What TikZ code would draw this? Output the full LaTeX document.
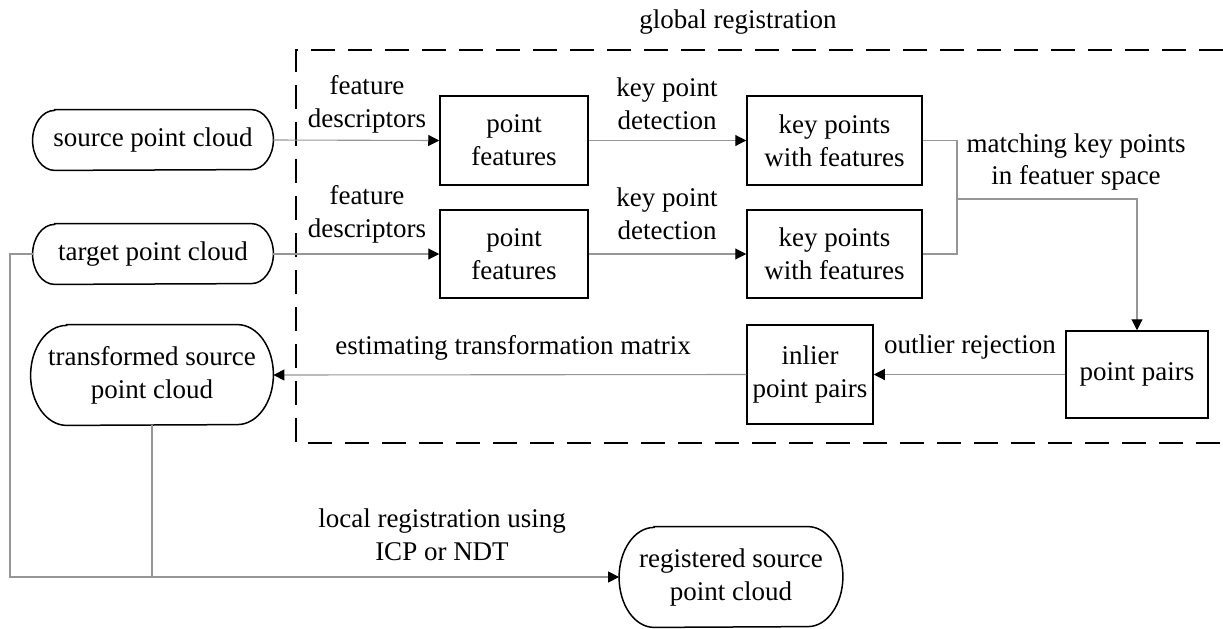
\documentclass[tikz,border=0pt]{standalone}
\usepackage{fontspec}
\setmainfont{Liberation Serif}
\usetikzlibrary{arrows.meta,calc}

\tikzset{
  boxline/.style={draw=black, line width=0.75pt},
  proc/.style={boxline, inner sep=0pt, align=center},
  term/.style={draw=none, inner sep=0pt, align=center},
  conn/.style={draw={rgb,255:red,150;green,150;blue,150}, line width=0.55pt},
  arr/.style={conn, -{Triangle[length=5.5pt,width=5.5pt,color=black]}},
  lbl/.style={inner sep=0pt, align=center},
  frame/.style={draw=black, line width=1pt, dash pattern=on 12pt off 6.5pt}
}

% capsule outline with elliptical ends around a named node
\newcommand{\capsule}[3]{%
  \draw[boxline] ($(#1.north west)+(#2,0)$) -- ($(#1.north east)-(#2,0)$)
    arc[start angle=90,end angle=-90,x radius=#2,y radius=#3]
    -- ($(#1.south west)+(#2,0)$)
    arc[start angle=270,end angle=90,x radius=#2,y radius=#3] -- cycle;}

\begin{document}
\begin{tikzpicture}[x=0.5pt,y=-0.5pt,
  every node/.style={font=\fontsize{13.5}{16.5}\selectfont}]
\useasboundingbox (0,0) rectangle (1223,628);

% global registration frame (open on the right)
\draw[frame] (1223,50) -- (296,50) -- (296,443) -- (1223,443);
\node[lbl] (glob) at (738,22) {global registration};

% terminal nodes
\node[term, minimum width=120pt, minimum height=30pt] (src) at (153,140) {source point cloud};
\node[term, minimum width=120pt, minimum height=30pt] (tgt) at (153,254) {target point cloud};
\node[term, minimum width=121pt, minimum height=50pt] (trf) at (152,375) {transformed source\\point cloud};
\node[term, minimum width=111.5pt, minimum height=50pt] (reg) at (731,577) {registered source\\point cloud};
\capsule{src}{11pt}{15pt}
\capsule{tgt}{11pt}{15pt}
\capsule{trf}{18pt}{25pt}
\capsule{reg}{17.5pt}{25pt}

% process boxes
\node[proc, minimum width=74pt, minimum height=44.5pt] (pf1) at (514,140.5) {point\\features};
\node[proc, minimum width=74pt, minimum height=44pt] (pf2) at (514,254) {point\\features};
\node[proc, minimum width=87.5pt, minimum height=44.5pt] (kp1) at (834.5,140.5) {key points\\with features};
\node[proc, minimum width=87.5pt, minimum height=44pt] (kp2) at (834.5,254) {key points\\with features};
\node[proc, minimum width=71pt, minimum height=43.5pt] (pp) at (1137,374.5) {point pairs};
\node[proc, minimum width=63pt, minimum height=49.5pt] (inl) at (810,374.5) {inlier\\point pairs};

% junction points
\coordinate (mA) at (957,140.5);
\coordinate (mB) at (957,254);
\coordinate (mC) at (957,199);
\coordinate (mD) at (1137,199);
\coordinate (lA) at (10,254);
\coordinate (lB) at (10,577);
\coordinate (lC) at (152,577);

% connectors
\draw[arr] (src.east) -- (pf1.west);
\draw[arr] (pf1.east) -- (kp1.west);
\draw[arr] (tgt.east) -- (pf2.west);
\draw[arr] (pf2.east) -- (kp2.west);
\draw[conn] (kp1.east) -- (mA) -- (mB) -- (kp2.east);
\draw[arr] (mC) -- (mD) -- (pp.north);
\draw[arr] (pp.west) -- (inl.west -| inl.east);
\draw[arr] (inl.west) -- (trf.east);
\draw[arr] (tgt.west) -- (lA) -- (lB) -- (reg.west);
\draw[conn] (trf.south) -- (lC);

% connector labels
\node[lbl] (fd1) at (367,104) {feature\\descriptors};
\node[lbl] (fd2) at (367,214) {feature\\descriptors};
\node[lbl] (kd1) at (667,104) {key point\\detection};
\node[lbl] (kd2) at (667,214) {key point\\detection};
\node[lbl] (mk) at (1076,162) {matching key points\\in featuer space};
\node[lbl] (orj) at (970,347) {outlier rejection};
\node[lbl] (etm) at (513,348) {estimating transformation matrix};
\node[lbl] (loc) at (442,535) {local registration using\\ICP or NDT};
\end{tikzpicture}
\end{document}
